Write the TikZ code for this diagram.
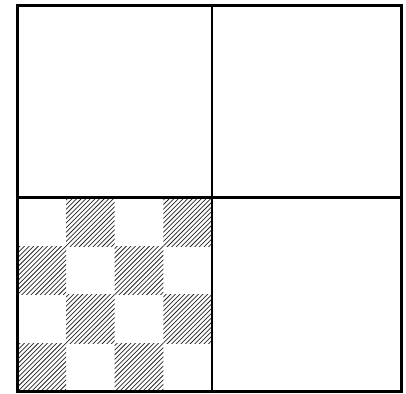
\documentclass[tikz,border=0pt]{standalone}
\begin{document}
\begin{tikzpicture}[x=1pt,y=-1pt]
    \useasboundingbox (0,0) rectangle (406,393);
    \tikzset{hatch/.style={black!85, line width=0.75pt}}

    % lower left quarter: 4 x 4 cells, every other one hatched
    \foreach \r in {0,...,3} {
        \foreach \c in {0,...,3} {
            \pgfmathtruncatemacro{\odd}{mod(\r+\c,2)}
            \ifnum\odd=1
                \begin{scope}
                    \clip (17.5+48.6*\c,197.5+48.5*\r) rectangle +(48.6,48.5);
                    \foreach \k in {-54,-49.4,...,54}
                        \draw[hatch] (17.5+48.6*\c+\k,197.5+48.5*\r+52) -- +(56,-56);
                \end{scope}
            \fi
        }
    }

    % quarter lines
    \draw[line width=2.3pt] (212,5.5) -- (212,391.5);
    \draw[line width=2.3pt] (17.5,197.5) -- (401.5,197.5);

    % outer frame
    \draw[line width=3.2pt] (17.5,5.5) rectangle (401.5,391.5);
\end{tikzpicture}
\end{document}
